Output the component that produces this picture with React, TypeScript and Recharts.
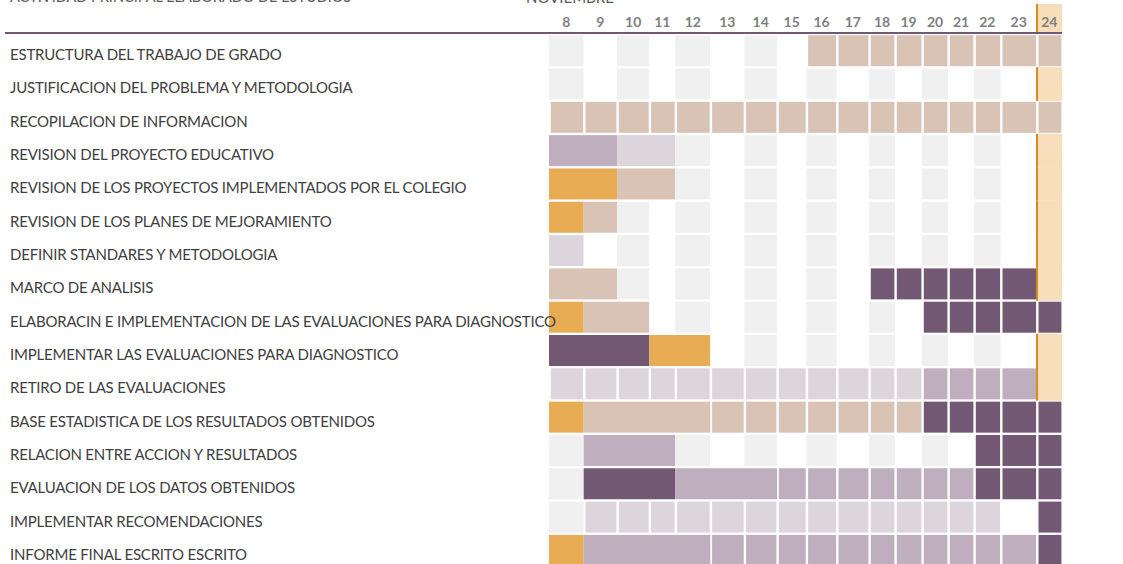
import { BarChart, Bar, XAxis, YAxis } from "recharts";

// ---- Data ----

const TITLE = "ACTIVIDAD PRINCIPAL ELABORADO DE ESTUDIOS";
const MONTH = "NOVIEMBRE";

const WEEKS = [8, 9, 10, 11, 12, 13, 14, 15, 16, 17, 18, 19, 20, 21, 22, 23, 24];
const CURRENT_WEEK = 24;

const ACTIVITIES = [
  "ESTRUCTURA DEL TRABAJO DE GRADO",
  "JUSTIFICACION DEL PROBLEMA Y METODOLOGIA",
  "RECOPILACION DE INFORMACION",
  "REVISION DEL PROYECTO EDUCATIVO",
  "REVISION DE LOS PROYECTOS IMPLEMENTADOS POR EL COLEGIO",
  "REVISION DE LOS PLANES DE MEJORAMIENTO",
  "DEFINIR STANDARES Y METODOLOGIA",
  "MARCO DE ANALISIS",
  "ELABORACIN E IMPLEMENTACION DE LAS EVALUACIONES PARA DIAGNOSTICO",
  "IMPLEMENTAR LAS EVALUACIONES PARA DIAGNOSTICO",
  "RETIRO DE LAS EVALUACIONES",
  "BASE ESTADISTICA DE LOS RESULTADOS OBTENIDOS",
  "RELACION ENTRE ACCION Y RESULTADOS",
  "EVALUACION DE LOS DATOS OBTENIDOS",
  "IMPLEMENTAR RECOMENDACIONES",
  "INFORME FINAL ESCRITO ESCRITO",
];

// one token per segment, one letter per week it covers.
// "_" = empty week, lowercase = single grid cell, UPPERCASE = continuous bar
// b beige, l light purple, p purple, d dark purple, o orange
const PLAN = [
  "_ _ _ _ _ _ _ _ b b b b b b b b b",
  "_ _ _ _ _ _ _ _ _ _ _ _ _ _ _ _ _",
  "b b b b b b b b b b b b b b b b b",
  "PP LL _ _ _ _ _ _ _ _ _ _ _ _ _",
  "OO BB _ _ _ _ _ _ _ _ _ _ _ _ _",
  "O B _ _ _ _ _ _ _ _ _ _ _ _ _ _ _",
  "L _ _ _ _ _ _ _ _ _ _ _ _ _ _ _ _",
  "BB _ _ _ _ _ _ _ _ d d d d d d _",
  "O BB _ _ _ _ _ _ _ _ _ d d d d d",
  "DDD OO _ _ _ _ _ _ _ _ _ _ _ _",
  "l l l l l l l l l l l l p p p p _",
  "O BBBB b b b b b b b d d d d d",
  "_ PPP _ _ _ _ _ _ _ _ _ _ d d d",
  "_ DDD PPP p p p p p p p d d d",
  "_ l l l l l l l l l l l l l l _ d",
  "O PPPP p p p p p p p p p p p d",
];

// ---- Layout / styles ----

// spreadsheet column widths (px) of the week columns
const COL_WIDTHS = [34.7, 33.3, 32.3, 26, 35, 34, 32.7, 29.3, 30.4, 32.3, 26, 27, 26, 26, 26.7, 36, 25.3];
const TOTAL = COL_WIDTHS.reduce((a, b) => a + b, 0);
const LEFT = 549;
const WIDTH = 1123;
const HEIGHT = 567;

const COLORS: Record<string, string> = {
  b: "#d9c3b5",
  l: "#dcd5dc",
  p: "#bfaebe",
  d: "#725872",
  o: "#e8ac54",
};
const BG_GREY = "#f0f0f0";
const BG_TODAY = "#f7ddb9";
const TODAY_LINE = "#d68b1f";
const HEADER_LINE = "#725872";
const FONT = "Lato, 'Open Sans', sans-serif";

// ---- Helpers ----

interface Seg {
  fill: string;
  cell: boolean;
  today: boolean;
}

const colStart = (i: number) => COL_WIDTHS.slice(0, i).reduce((a, b) => a + b, 0);
const CENTERS = WEEKS.map((_, i) => colStart(i) + COL_WIDTHS[i] / 2);

function buildRow(name: string, plan: string) {
  const row: Record<string, any> = { name, segs: [] as Seg[] };
  let col = 0;
  plan.trim().split(/\s+/).forEach((tok, k) => {
    const span = tok.length;
    const code = tok[0];
    const width = COL_WIDTHS.slice(col, col + span).reduce((a, b) => a + b, 0);
    let seg: Seg;
    if (code === "_") {
      const week = WEEKS[col];
      seg = week === CURRENT_WEEK
        ? { fill: BG_TODAY, cell: false, today: true }
        : { fill: week % 2 === 0 ? BG_GREY : "#ffffff", cell: false, today: false };
    } else {
      seg = { fill: COLORS[code.toLowerCase()], cell: code === code.toLowerCase(), today: false };
    }
    row[`s${k}`] = width;
    row.segs.push(seg);
    col += span;
  });
  return row;
}

const rows = ACTIVITIES.map((name, i) => buildRow(name, PLAN[i]));
const maxSegs = Math.max(...rows.map((r) => r.segs.length));
const segKeys = Array.from({ length: maxSegs }, (_, k) => `s${k}`);

// ---- Shapes ----

function SegShape(props: any) {
  const { x, y, width, height, payload, k } = props;
  const seg: Seg | undefined = payload?.segs?.[k];
  if (!seg || !width) return null;
  if (seg.today) {
    const pad = 1.3;
    return (
      <g>
        <rect x={x} y={y - pad} width={width} height={height + pad * 2} fill={BG_TODAY} />
        <rect x={x - 0.7} y={y - pad} width={2} height={height + pad * 2} fill={TODAY_LINE} />
      </g>
    );
  }
  const l = seg.cell ? 1.8 : 0;
  const r = seg.cell ? 0.6 : 0;
  return <rect x={x + l} y={y} width={width - l - r} height={height} fill={seg.fill} />;
}

function WeekTick(props: any) {
  const { x, payload } = props;
  const i = CENTERS.indexOf(payload.value);
  const week = WEEKS[i];
  const w = COL_WIDTHS[i] ?? 0;
  return (
    <g>
      {week === CURRENT_WEEK && (
        <>
          <rect x={x - w / 2} y={4} width={w} height={29} fill={BG_TODAY} />
          <rect x={x - w / 2 - 0.7} y={4} width={2} height={29} fill={TODAY_LINE} />
        </>
      )}
      <text
        x={x}
        y={27}
        textAnchor="middle"
        fontFamily={FONT}
        fontSize={14}
        fontWeight="bold"
        fill="#7f7f7f"
      >
        {week}
      </text>
    </g>
  );
}

function ActivityTick(props: any) {
  const { y, payload } = props;
  return (
    <text
      x={10}
      y={y + 9.5}
      textAnchor="start"
      fontFamily={FONT}
      fontSize={15}
      letterSpacing={-0.2}
      fill="#404040"
    >
      {payload.value}
    </text>
  );
}

// ---- Component ----

export default function App() {
  return (
    <div style={{ position: "absolute", left: 0, top: 0, width: WIDTH, height: 564, overflow: "hidden", background: "#fff" }}>
      <div style={{ position: "absolute", left: 10, top: -12, fontFamily: FONT, fontSize: 14.5, color: "#595959", whiteSpace: "nowrap" }}>
        {TITLE}
      </div>
      <div style={{ position: "absolute", left: 526, top: -12, fontFamily: FONT, fontSize: 15, color: "#595959", whiteSpace: "nowrap" }}>
        {MONTH}
      </div>
      <BarChart
        width={WIDTH}
        height={HEIGHT}
        data={rows}
        layout="vertical"
        barCategoryGap={1.2}
        margin={{ top: 0, right: WIDTH - LEFT - TOTAL, bottom: 0, left: 0 }}
      >
        <XAxis
          type="number"
          orientation="top"
          domain={[0, TOTAL]}
          ticks={CENTERS}
          interval={0}
          height={34}
          axisLine={false}
          tickLine={false}
          tick={<WeekTick />}
        />
        {segKeys.map((key, k) => (
          <Bar
            key={key}
            dataKey={key}
            stackId="row"
            isAnimationActive={false}
            shape={(p: any) => <SegShape {...p} k={k} />}
          />
        ))}
        <YAxis
          type="category"
          dataKey="name"
          width={LEFT}
          axisLine={false}
          tickLine={false}
          interval={0}
          tick={<ActivityTick />}
        />
      </BarChart>
      <div style={{ position: "absolute", left: 5, top: 32, width: LEFT + TOTAL - 5, height: 2, background: HEADER_LINE }} />
    </div>
  );
}
